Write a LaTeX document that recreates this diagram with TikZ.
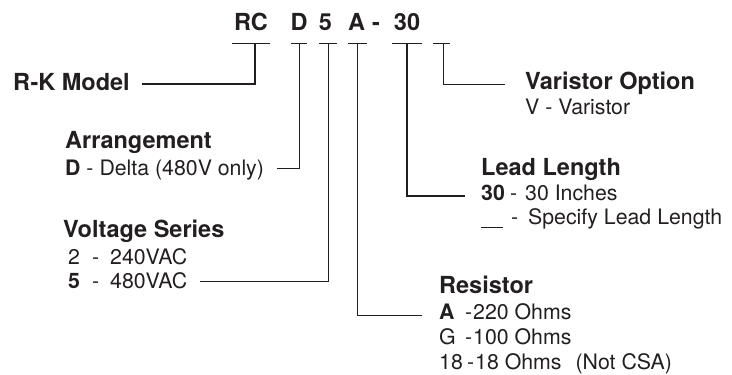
\documentclass[tikz,border=0pt]{standalone}
\usepackage{fontspec}
\setmainfont{TeX Gyre Heros}
\definecolor{ink}{HTML}{231F20}
\begin{document}
\begin{tikzpicture}[x=1pt,y=-1pt,
 head/.style={anchor=base west,inner sep=0pt,font=\fontsize{23.5}{26}\selectfont\bfseries,text=ink},
 body/.style={anchor=base west,inner sep=0pt,font=\fontsize{21.3}{24}\selectfont,text=ink},
 code/.style={anchor=base,inner sep=0pt,font=\fontsize{23.5}{26}\selectfont\bfseries,text=ink},
 lead/.style={draw=ink,line width=1pt},
 thicklead/.style={draw=ink,line width=1.8pt}]
\useasboundingbox (0,0) rectangle (732,375);

% model code
\node[code] (cRC) at (251,30) {RC};
\node[code] (cD) at (299,30) {D};
\node[code] (c5) at (325.5,30) {5};
\node[code] (cA) at (356.5,30) {A};
\node[code] (cDash) at (376,30) {-};
\node[code] (c30) at (407,30) {30};

% bars under the code
\coordinate (bRCl) at (232,43); \coordinate (bRCr) at (270,43); \coordinate (bRCm) at (255,43);
\coordinate (bDl) at (291,43); \coordinate (bDr) at (307,43); \coordinate (bDm) at (299,43);
\coordinate (b5l) at (319,43); \coordinate (b5r) at (337,43); \coordinate (b5m) at (328,43);
\coordinate (bAl) at (348,43); \coordinate (bAr) at (367,43); \coordinate (bAm) at (357,43);
\coordinate (b30l) at (392,43); \coordinate (b30r) at (422,43); \coordinate (b30m) at (407,43);
\coordinate (bVl) at (433,43); \coordinate (bVr) at (450,43); \coordinate (bVm) at (443,43);

% line ends
\coordinate (eRK) at (142,84);
\coordinate (eD) at (277,168);
\coordinate (e5) at (200,281.5);
\coordinate (eA) at (422,315);
\coordinate (e30) at (465,196);
\coordinate (eV) at (505,84);

% labels
\node[head] (lRK) at (13,90) {R-K Model};
\node[head] (lArr) at (65,148) {Arrangement};
\node[body] (lArrD) at (65,175) {\textbf{D} - Delta (480V only)};
\node[head] (lVolt) at (63,237) {Voltage Series};
\node[body] (lV2) at (68,264) {\makebox[24pt][l]{2}\makebox[18pt][l]{-}240VAC};
\node[body] (lV5) at (68,288) {\makebox[24pt][l]{\textbf{5}}\makebox[18pt][l]{-}480VAC};
\node[head] (lVar) at (525,89) {Varistor Option};
\node[body] (lVarV) at (525,114) {V - Varistor};
\node[head] (lLead) at (481,175) {Lead Length};
\node[body] (lL30) at (481,200) {\makebox[29pt][l]{\textbf{30}}\makebox[15pt][l]{-}30 Inches};
\node[body] (lLsp) at (481,224.5) {\makebox[30pt][l]{\rule[-3pt]{22pt}{0.8pt}}\makebox[17pt][l]{-}Specify Lead Length};
\node[head] (lRes) at (439,293) {Resistor};
\node[body] (lRA) at (439,319) {\makebox[26pt][l]{\textbf{A}}\makebox[8pt][l]{-}220 Ohms};
\node[body] (lRG) at (439,344) {\makebox[26pt][l]{G}\makebox[8pt][l]{-}100 Ohms};
\node[body] (lR18) at (439,369) {\makebox[28pt][l]{18}\makebox[8pt][l]{-}18 Ohms\hspace{14pt}(Not CSA)};

% connectors
\draw[lead] (bRCl) -- (bRCr);
\draw[thicklead] (bRCm) |- (eRK);
\draw[lead] (bDl) -- (bDr);
\draw[lead] (bDm) |- (eD);
\draw[lead] (b5l) -- (b5r);
\draw[lead] (b5m) |- (e5);
\draw[lead] (bAl) -- (bAr);
\draw[lead] (bAm) |- (eA);
\draw[lead] (b30l) -- (b30r);
\draw[thicklead] (b30m) |- (e30);
\draw[lead] (bVl) -- (bVr);
\draw[lead] (bVm) |- (eV);
\end{tikzpicture}
\end{document}
